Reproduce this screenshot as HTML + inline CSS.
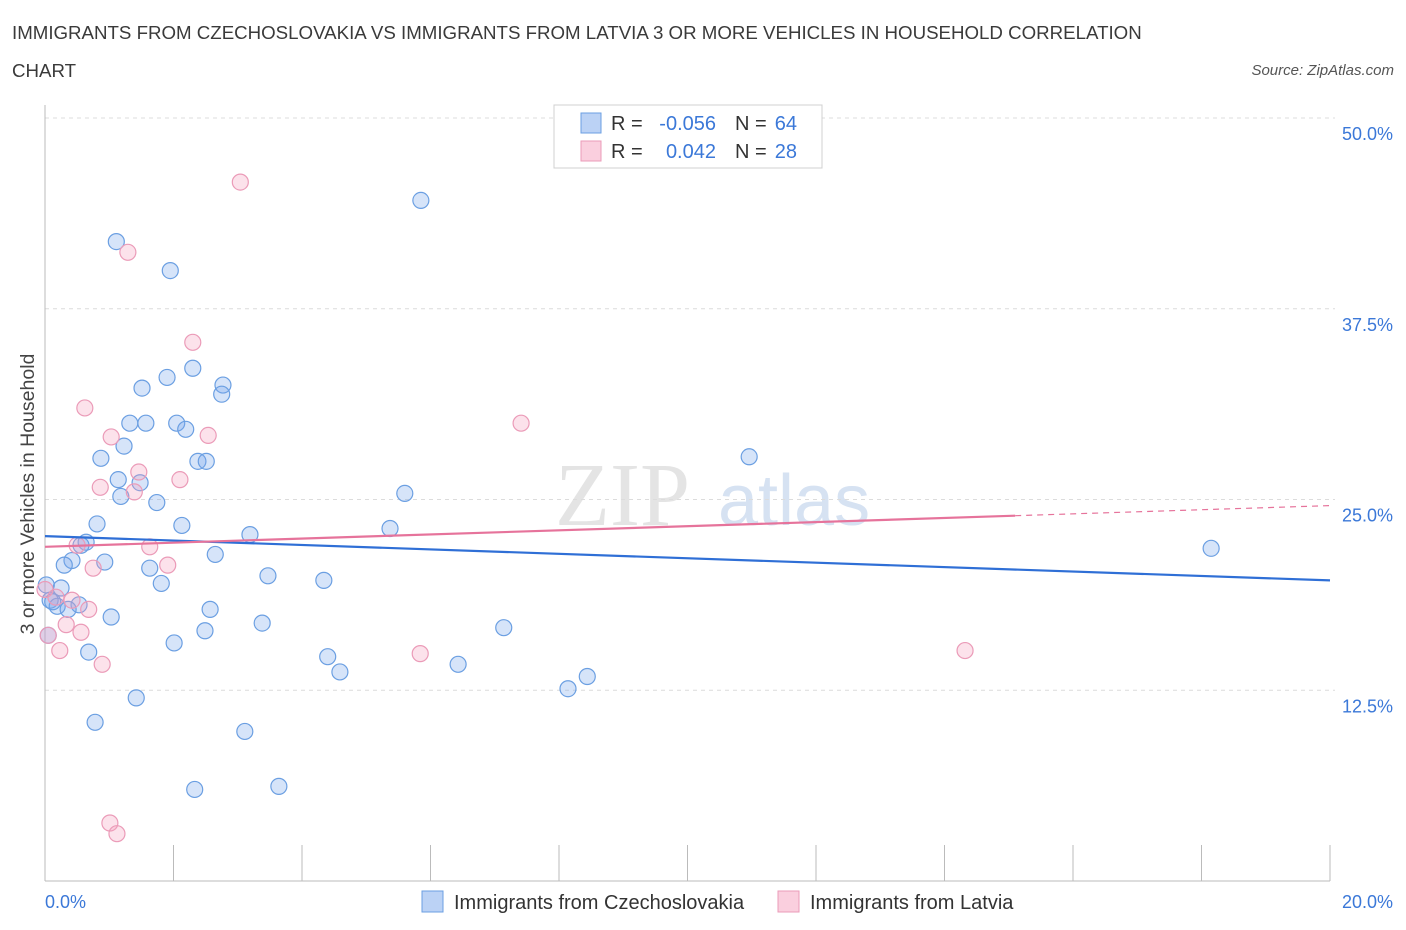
<!DOCTYPE html>
<html><head><meta charset="utf-8">
<style>
body{margin:0;background:#fff;font-family:"Liberation Sans",sans-serif;}
#wrap{position:relative;width:1406px;height:930px;overflow:hidden}
.t{position:absolute;color:#333}
</style></head><body>
<div id="wrap">
<div class="t" style="left:12px;top:14px;font-size:18.7px;line-height:38px;width:1150px;color:#3a3a3a">IMMIGRANTS FROM CZECHOSLOVAKIA VS IMMIGRANTS FROM LATVIA 3 OR MORE VEHICLES IN HOUSEHOLD CORRELATION CHART</div>
<div class="t" style="right:12px;top:62px;font-size:15px;font-style:italic;color:#555">Source: ZipAtlas.com</div>
<svg id="svg" width="1406" height="930" style="position:absolute;left:0;top:0"></svg>
</div>
<script>
const xTicks=[0,2,4,6,8,10,12,14,16,18,20];
const yTicks=[12.5,25,37.5,50];
const yTickLabels=["12.5%","25.0%","37.5%","50.0%"];
const blueX=[5.85,1.11,1.95,2.30,1.51,1.90,2.77,2.75,1.32,1.57,2.05,2.19,0.87,1.23,2.38,2.51,10.96,1.14,1.48,1.18,1.74,5.60,0.81,2.13,5.37,3.19,0.64,0.56,18.15,2.65,0.42,0.93,0.30,1.63,3.47,1.81,4.34,0.25,0.08,0.53,0.19,0.36,2.57,1.03,3.38,2.49,7.14,2.01,0.68,4.40,4.59,6.43,8.44,8.14,1.42,0.78,3.11,2.33,3.64,0.05,0.02,0.12];
const blueY=[44.6,41.9,40.0,33.6,32.3,33.0,32.5,31.9,30.0,30.0,30.0,29.6,27.7,28.5,27.5,27.5,27.8,26.3,26.1,25.2,24.8,25.4,23.4,23.3,23.1,22.7,22.2,22.0,21.8,21.4,21.0,20.9,20.7,20.5,20.0,19.5,19.7,19.2,18.4,18.1,18.0,17.8,17.8,17.3,16.9,16.4,16.6,15.6,15.0,14.7,13.7,14.2,13.4,12.6,12.0,10.4,9.8,6.0,6.2,16.1,19.4,18.3];
const pinkX=[3.04,1.29,2.30,0.62,7.41,1.03,2.54,1.46,2.10,0.86,1.39,1.63,0.50,1.91,0.75,0.0,0.42,0.17,0.68,0.33,0.56,0.23,0.89,5.84,14.32,1.01,1.12,0.05];
const pinkY=[45.8,41.2,35.3,31.0,30.0,29.1,29.2,26.8,26.3,25.8,25.5,21.9,22.0,20.7,20.5,19.1,18.4,18.6,17.8,16.8,16.3,15.1,14.2,14.9,15.1,3.8,3.1,16.1];
const blueTrend=[22.6,19.7];
const pinkTrend=[21.9,24.6];
const pinkSolidEnd=15.1;

const X0=45,X1=1330,Y0=881,Y50=118;
const sx=v=>X0+(X1-X0)*v/20;
const sy=v=>Y0-(Y0-Y50)*v/50;
const svg=document.getElementById('svg');
const NS='http://www.w3.org/2000/svg';
function mk(tag,attrs){const e=document.createElementNS(NS,tag);for(const k in attrs)e.setAttribute(k,attrs[k]);svg.appendChild(e);return e;}

let wm=mk('text',{x:555,y:525,'font-size':90,'font-family':'Liberation Serif, serif',fill:'#e4e4e4'});
wm.textContent='ZIP';


let wm2=mk('text',{x:718,y:525,'font-size':72,'font-family':'Liberation Sans, sans-serif',fill:'#d6e2f2'});
wm2.textContent='atlas';



yTicks.forEach((v,i)=>{
  let g=mk('line',{x1:X0,x2:X1+5,y1:sy(v),y2:sy(v),stroke:'#dcdcdc','stroke-dasharray':'4,4'});
  
  
  let t=mk('text',{x:1393,y:sy(v)+22,'text-anchor':'end','font-size':18,fill:'#3b78d8'});
  t.textContent=yTickLabels[i];
  
  
});
let ax=mk('line',{x1:X0,x2:X0,y1:105,y2:Y0,stroke:'#bbb'});


let bx=mk('line',{x1:X0,x2:X1,y1:Y0,y2:Y0,stroke:'#bbb'});


xTicks.forEach(v=>{
  let l=mk('line',{x1:sx(v),x2:sx(v),y1:Y0-36,y2:Y0,stroke:'#bbb'});
  
  
});
[[0,'0.0%','start',45],[20,'20.0%','end',1393]].forEach(a=>{
  let t=mk('text',{x:a[3],y:908,'text-anchor':a[2],'font-size':18,fill:'#3b78d8'});
  t.textContent=a[1];
  
  
});
let yt=mk('text',{x:34,y:494,'text-anchor':'middle','font-size':19.5,fill:'#444',transform:'rotate(-90 34 494)'});
yt.textContent='3 or more Vehicles in Household';



blueX.forEach((x,i)=>{
  let c=mk('circle',{cx:sx(x),cy:sy(blueY[i]),r:8,fill:'rgba(120,165,235,0.3)',stroke:'#6b9fe2','stroke-width':1.2});
  
  
});
pinkX.forEach((x,i)=>{
  let c=mk('circle',{cx:sx(x),cy:sy(pinkY[i]),r:8,fill:'rgba(245,160,190,0.3)',stroke:'#eb9bb8','stroke-width':1.2});
  
  
});
let bl=mk('line',{x1:sx(0),y1:sy(blueTrend[0]),x2:sx(20),y2:sy(blueTrend[1]),stroke:'#2f6fd6','stroke-width':2.2});


const py=x=>pinkTrend[0]+(pinkTrend[1]-pinkTrend[0])*x/20;
let pl=mk('line',{x1:sx(0),y1:sy(py(0)),x2:sx(pinkSolidEnd),y2:sy(py(pinkSolidEnd)),stroke:'#e6739b','stroke-width':2.2});


let pd=mk('line',{x1:sx(pinkSolidEnd),y1:sy(py(pinkSolidEnd)),x2:sx(20),y2:sy(py(20)),stroke:'#e6739b','stroke-width':1.2,'stroke-dasharray':'6,5'});



let lb=mk('rect',{x:554,y:105,width:268,height:63,fill:'#fff',stroke:'#d0d0d0'});


[[123,'rgba(120,165,235,0.5)','#6b9fe2','-0.056','64'],[151,'rgba(245,160,190,0.5)','#eb9bb8','0.042','28']].forEach(r=>{
  let s=mk('rect',{x:581,y:r[0]-10,width:20,height:20,fill:r[1],stroke:r[2]});
  
  
  let a=mk('text',{x:611,y:r[0]+7,'font-size':20,fill:'#333'});
  a.textContent='R =';
  
  
  let b=mk('text',{x:716,y:r[0]+7,'font-size':20,fill:'#3b78d8','text-anchor':'end'});
  b.textContent=r[3];
  
  
  let c=mk('text',{x:735,y:r[0]+7,'font-size':20,fill:'#333'});
  c.textContent='N =';
  
  
  let d=mk('text',{x:797,y:r[0]+7,'font-size':20,fill:'#3b78d8','text-anchor':'end'});
  d.textContent=r[4];
  
  
});
[[422,'rgba(120,165,235,0.5)','#6b9fe2','Immigrants from Czechoslovakia'],[778,'rgba(245,160,190,0.5)','#eb9bb8','Immigrants from Latvia']].forEach(r=>{
  let s=mk('rect',{x:r[0],y:891,width:21,height:21,fill:r[1],stroke:r[2]});
  
  
  let t=mk('text',{x:r[0]+32,y:909,'font-size':20,fill:'#333'});
  t.textContent=r[3];
  
  
});
</script>
</body></html>
